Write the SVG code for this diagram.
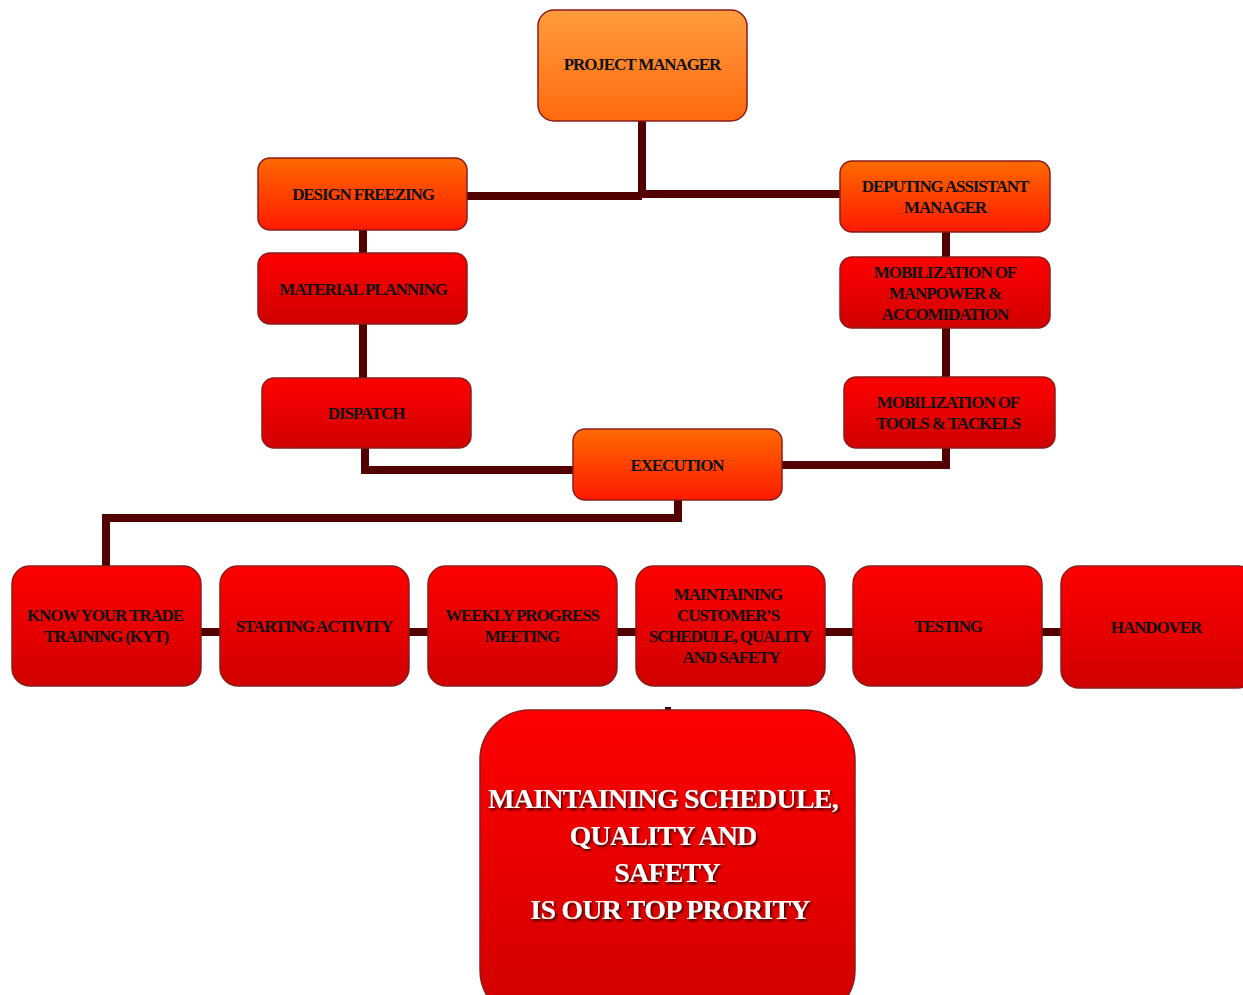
<svg xmlns="http://www.w3.org/2000/svg" width="1243" height="995" viewBox="0 0 1243 995">
<defs>
<linearGradient id="gTop" x1="0" y1="0" x2="0" y2="1"><stop offset="0" stop-color="#FF9C3E"/><stop offset="1" stop-color="#FF6A0E"/></linearGradient>
<linearGradient id="gOr" x1="0" y1="0" x2="0" y2="1"><stop offset="0" stop-color="#FF6A00"/><stop offset="1" stop-color="#FF1A00"/></linearGradient>
<linearGradient id="gRed" x1="0" y1="0" x2="0" y2="1"><stop offset="0" stop-color="#FF0000"/><stop offset="1" stop-color="#D00000"/></linearGradient>
<filter id="sh" x="-10%" y="-10%" width="120%" height="130%"><feDropShadow dx="1.5" dy="2" stdDeviation="0.8" flood-color="#2A0000" flood-opacity="0.95"/></filter>
</defs>
<style>
.box{stroke:#8B1C1C;stroke-width:1.5}
.t{font-family:"Liberation Serif",serif;font-weight:bold;font-size:17px;fill:#111;text-anchor:middle;letter-spacing:-1.1px}
.big{font-family:"Liberation Serif",serif;font-weight:bold;font-size:28px;fill:#fff;text-anchor:middle;letter-spacing:-0.8px}
.c{fill:none;stroke:#520000;stroke-width:8;stroke-linejoin:miter}
</style>
<rect width="1243" height="995" fill="#fff"/>
<g id="connectors">
<path class="c" d="M642 121V197"/>
<path class="c" d="M467 196H642"/>
<path class="c" d="M642 194H840"/>
<path class="c" d="M363 230V253"/>
<path class="c" d="M363 324V378"/>
<path class="c" d="M365 448V470H573"/>
<path class="c" d="M782 465H946V448"/>
<path class="c" d="M946 232V257"/>
<path class="c" d="M946 328V377"/>
<path class="c" d="M678 500V518H106V566"/>
<path class="c" d="M201 632H220"/>
<path class="c" d="M409 632H428"/>
<path class="c" d="M617 632H636"/>
<path class="c" d="M825 632H853"/>
<path class="c" d="M1042 632H1061"/>
<path d="M665 707H671V711H665Z" fill="#520000"/>
</g>
<g id="project-manager"><rect class="box" x="538" y="10" width="209" height="111" rx="16" fill="url(#gTop)"/><text class="t" x="642" y="70">PROJECT MANAGER</text></g>
<g id="design-freezing"><rect class="box" x="258" y="158" width="209" height="72" rx="12" fill="url(#gOr)"/><text class="t" x="363" y="200">DESIGN FREEZING</text></g>
<g id="material-planning"><rect class="box" x="258" y="253" width="209" height="71" rx="12" fill="url(#gRed)"/><text class="t" x="363" y="295">MATERIAL PLANNING</text></g>
<g id="dispatch"><rect class="box" x="262" y="378" width="209" height="70" rx="12" fill="url(#gRed)"/><text class="t" x="366" y="419">DISPATCH</text></g>
<g id="deputing"><rect class="box" x="840" y="161" width="210" height="71" rx="12" fill="url(#gOr)"/><text class="t" x="945" y="192">DEPUTING ASSISTANT</text><text class="t" x="945" y="213">MANAGER</text></g>
<g id="mob-manpower"><rect class="box" x="840" y="257" width="210" height="71" rx="12" fill="url(#gRed)"/><text class="t" x="945" y="278">MOBILIZATION OF</text><text class="t" x="945" y="299">MANPOWER &amp;</text><text class="t" x="945" y="320">ACCOMIDATION</text></g>
<g id="mob-tools"><rect class="box" x="844" y="377" width="211" height="71" rx="12" fill="url(#gRed)"/><text class="t" x="948" y="408">MOBILIZATION OF</text><text class="t" x="948" y="429">TOOLS &amp; TACKELS</text></g>
<g id="execution"><rect class="box" x="573" y="429" width="209" height="71" rx="12" fill="url(#gOr)"/><text class="t" x="677" y="471">EXECUTION</text></g>
<g id="kyt"><rect class="box" x="12" y="566" width="189" height="120" rx="18" fill="url(#gRed)"/><text class="t" x="105" y="621">KNOW YOUR TRADE</text><text class="t" x="106" y="642">TRAINING (KYT)</text></g>
<g id="starting"><rect class="box" x="220" y="566" width="189" height="120" rx="18" fill="url(#gRed)"/><text class="t" x="314" y="632">STARTING ACTIVITY</text></g>
<g id="weekly"><rect class="box" x="428" y="566" width="189" height="120" rx="18" fill="url(#gRed)"/><text class="t" x="522" y="621">WEEKLY PROGRESS</text><text class="t" x="522" y="642">MEETING</text></g>
<g id="maintaining"><rect class="box" x="636" y="566" width="189" height="120" rx="18" fill="url(#gRed)"/><text class="t" x="728" y="600">MAINTAINING</text><text class="t" x="728" y="621">CUSTOMER’S</text><text class="t" x="730" y="642">SCHEDULE, QUALITY</text><text class="t" x="731" y="663">AND SAFETY</text></g>
<g id="testing"><rect class="box" x="853" y="566" width="189" height="120" rx="18" fill="url(#gRed)"/><text class="t" x="948" y="632">TESTING</text></g>
<g id="handover"><rect class="box" x="1061" y="566" width="195" height="122" rx="18" fill="url(#gRed)"/><text class="t" x="1156" y="633">HANDOVER</text></g>
<g id="priority"><rect class="box" x="480" y="710" width="375" height="310" rx="50" fill="url(#gRed)"/>
<g filter="url(#sh)">
<text class="big" x="663" y="808">MAINTAINING SCHEDULE,</text>
<text class="big" x="663" y="845">QUALITY AND</text>
<text class="big" x="667" y="882">SAFETY</text>
<text class="big" x="670" y="919">IS OUR TOP PRORITY</text>
</g></g>
</svg>
